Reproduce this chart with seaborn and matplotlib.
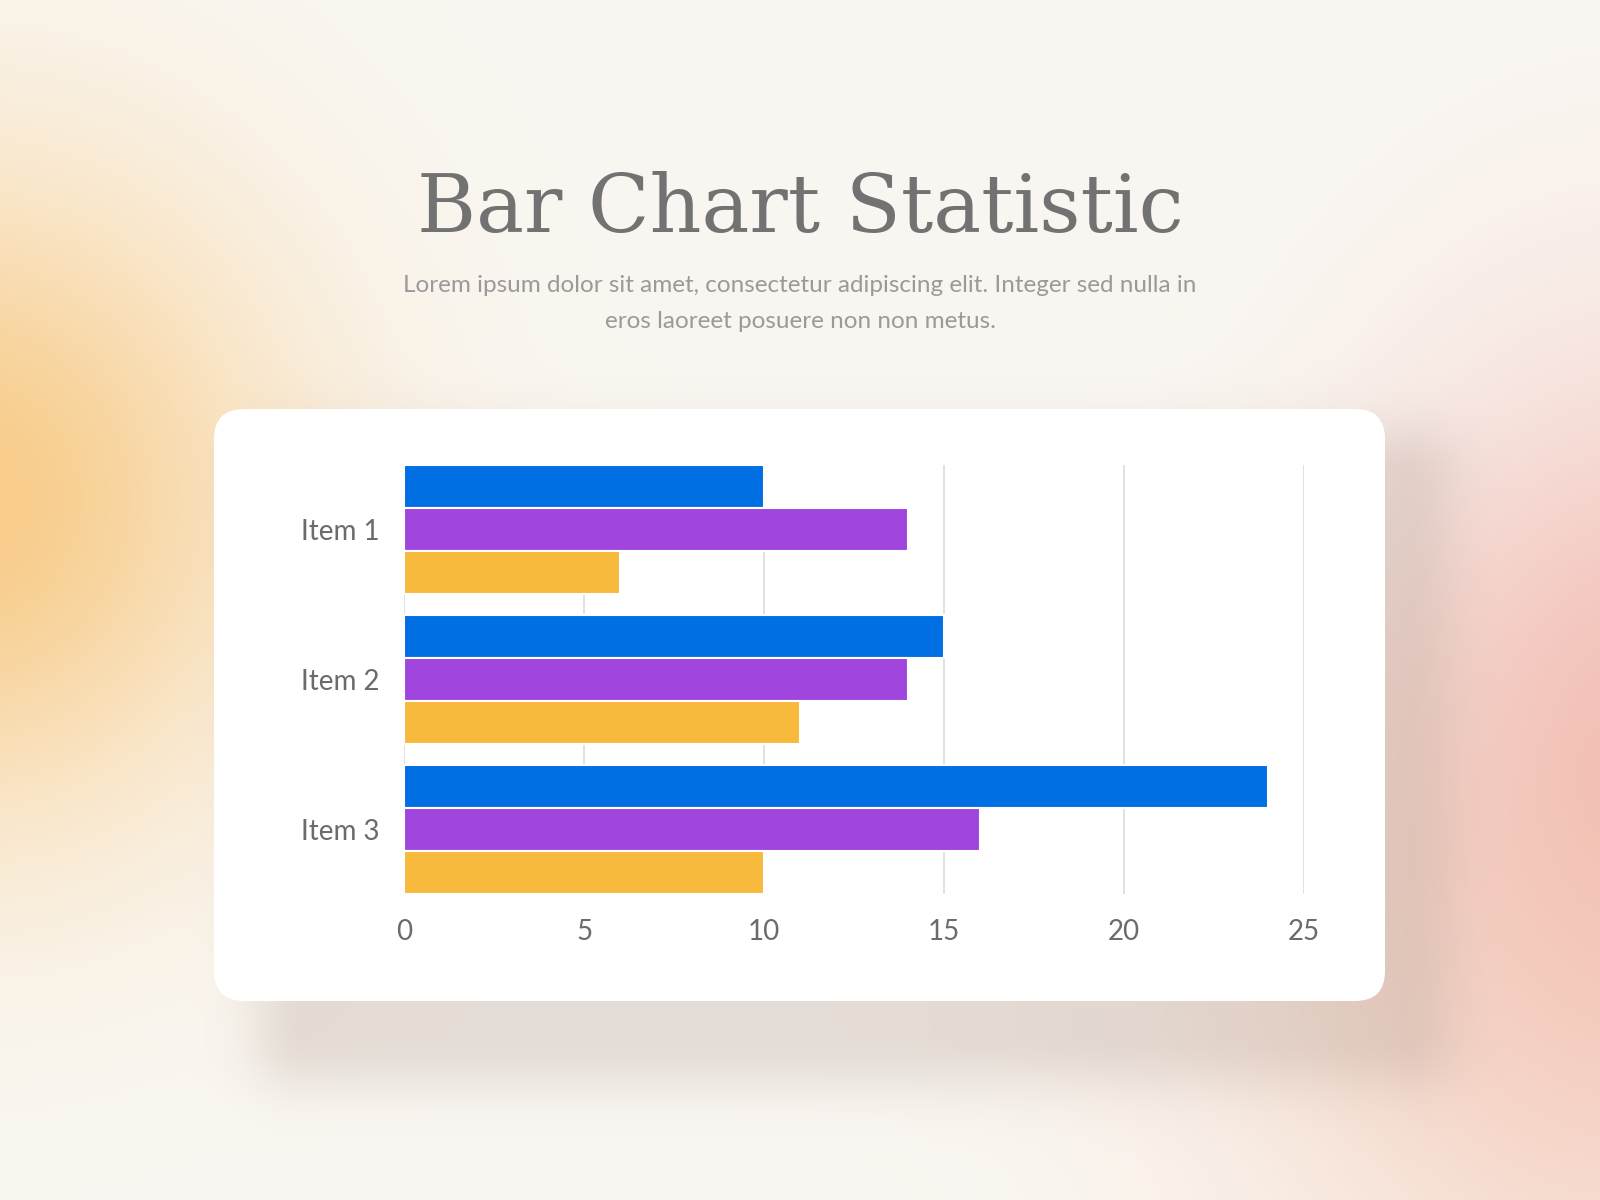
import numpy as np
import pandas as pd
import matplotlib
matplotlib.use("Agg")
import matplotlib.pyplot as plt
from matplotlib.patches import FancyBboxPatch
import seaborn as sns

# chart data
items = ["Item 1", "Item 2", "Item 3"]
series_names = ["Series 1", "Series 2", "Series 3"]
series_1 = [10, 15, 24]
series_2 = [14, 14, 16]
series_3 = [6, 11, 10]
x_ticks = [0, 5, 10, 15, 20, 25]

colors = ["#006FE4", "#A046DE", "#F8BA3C"]

df = pd.DataFrame({
    "item": items * 3,
    "series": [series_names[0]] * 3 + [series_names[1]] * 3 + [series_names[2]] * 3,
    "value": series_1 + series_2 + series_3,
})

W, H = 1600, 1200
fig = plt.figure(figsize=(16, 12), dpi=100)

# background: soft blurred colour blobs + card shadow
yy, xx = np.mgrid[0:H, 0:W].astype(float)
img = np.ones((H, W, 3)) * np.array([250, 247, 242]) / 255.0

def blend(img, w, col):
    col = np.array(col) / 255.0
    return img * (1 - w[..., None]) + col * w[..., None]

w_orange = 0.85 * np.exp(-((xx + 40) ** 2 / (2 * 220 ** 2) + (yy - 500) ** 2 / (2 * 230 ** 2)))
img = blend(img, w_orange, (248, 196, 118))
w_pink = 0.75 * np.exp(-((xx - 1640) ** 2 / (2 * 190 ** 2) + (yy - 780) ** 2 / (2 * 280 ** 2)))
img = blend(img, w_pink, (240, 170, 165))
w_peach = 0.45 * np.exp(-((xx - 1560) ** 2 / (2 * 260 ** 2) + (yy - 1000) ** 2 / (2 * 260 ** 2)))
img = blend(img, w_peach, (244, 200, 175))

# card shadow (offset down and right)
cx0, cx1, cy0, cy1 = 214, 1385, 409, 1001
sx0, sx1, sy0, sy1 = cx0 + 90, cx1 + 20, cy0 + 70, cy1 + 35
dx = np.maximum(np.maximum(sx0 - xx, xx - sx1), 0)
dy = np.maximum(np.maximum(sy0 - yy, yy - sy1), 0)
d = np.sqrt(dx ** 2 + dy ** 2)
w_shadow = 0.28 * np.exp(-d ** 2 / (2 * 40 ** 2))
img = blend(img, w_shadow, (170, 150, 140))

ax_bg = fig.add_axes([0, 0, 1, 1])
ax_bg.imshow(img, extent=[0, W, H, 0], aspect="auto", interpolation="bilinear")
ax_bg.add_patch(FancyBboxPatch((cx0, cy0), cx1 - cx0, cy1 - cy0,
                               boxstyle="round,pad=0,rounding_size=30",
                               facecolor="white", edgecolor="none"))
ax_bg.set_xlim(0, W)
ax_bg.set_ylim(H, 0)
ax_bg.axis("off")

# title and subtitle
fig.text(0.5, 0.807, "Bar Chart Statistic", ha="center", va="baseline",
         fontsize=58, color="#727272", family="DejaVu Serif")
fig.text(0.5, 0.747,
         "Lorem ipsum dolor sit amet, consectetur adipiscing elit. Integer sed nulla in\neros laoreet posuere non non metus.",
         ha="center", va="center", multialignment="center", linespacing=1.85,
         fontsize=17.5, color="#9A9A9A", family="Lato")

# bar chart
ax = fig.add_axes([0.2526, 0.2551, 0.5625, 0.357])
ax.set_facecolor("none")
sns.barplot(data=df, x="value", y="item", hue="series", palette=colors,
            orient="h", width=0.857, saturation=1, ax=ax, legend=False,
            edgecolor="white", linewidth=1.5, zorder=3)

ax.set_xlim(0, 25)
ax.set_ylim(2.4286, -0.4286)
ax.set_xticks(x_ticks)
ax.set_xticklabels([str(t) for t in x_ticks])
ax.grid(axis="x", color="#DCDCDC", linewidth=1.2, zorder=0)
ax.grid(axis="y", visible=False)
ax.set_axisbelow(True)
for s in ax.spines.values():
    s.set_visible(False)
ax.tick_params(axis="both", length=0, labelsize=20, labelcolor="#6B6B6B")
ax.tick_params(axis="x", pad=18)
ax.tick_params(axis="y", pad=18)
for lbl in ax.get_xticklabels() + ax.get_yticklabels():
    lbl.set_family("Lato")
ax.set_xlabel("")
ax.set_ylabel("")

fig.savefig("out.png", dpi=100)
